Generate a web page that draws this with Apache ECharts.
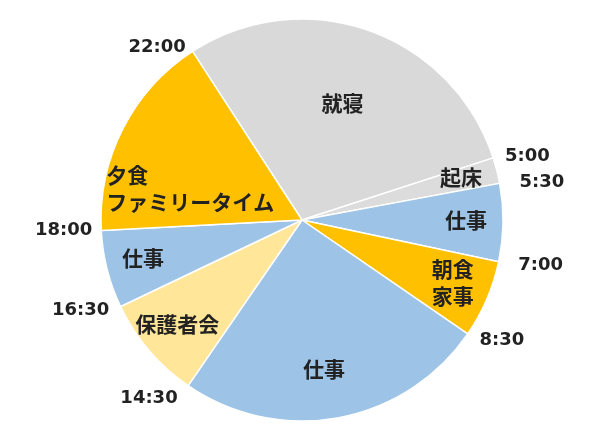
<!DOCTYPE html>
<html>
<head>
<meta charset="utf-8">
<script src="https://cdn.jsdelivr.net/npm/echarts@6/dist/echarts.min.js"></script>
<style>
  html, body { margin: 0; padding: 0; background: #fff; }
  #chart { width: 600px; height: 439px; }
</style>
</head>
<body>
<div id="chart"></div>
<script>
// one day, starting at 22:00 and going clockwise
var activities = ['就寝', '起床', '仕事', '朝食\n家事', '仕事', '保護者会', '仕事', '夕食\nファミリータイム'];
var hours = [7, 0.5, 1.5, 1.5, 6, 2, 1.5, 4];
var startTimes = ['22:00', '5:00', '5:30', '7:00', '8:30', '14:30', '16:30', '18:00'];

var palette = ['#d9d9d9', '#dcdcdc', '#9dc3e6', '#ffc000', '#9dc3e6', '#ffe699', '#9dc3e6', '#ffc000'];
// labels that sit closer to the centre
var nearLabels = [0, 7];
// how far each time label stands off the rim
var timeGap = [5, 5, 8, 16, 12, 15, 8, 5];
var timeGap2 = [2, 5, 10, 2, 0, 0, 2, 2];

var center = [302, 220];
var startAngle = 123;
var fontFamily = 'DejaVu Sans, Noto Sans CJK JP, sans-serif';

function _sliceData() {
    var list = [];
    for (var i = 0; i < hours.length; i++) {
        list.push({
            name: activities[i] + '_' + i,
            value: hours[i],
            itemStyle: { color: palette[i] }
        });
    }
    return list;
}

function _labelData(near) {
    var list = [];
    for (var i = 0; i < hours.length; i++) {
        var show = (nearLabels.indexOf(i) >= 0) === near;
        var item = {
            name: activities[i],
            value: hours[i],
            label: { show: show }
        };
        if (i === 4) {
            item.label.offset = [-8, -10];
        }
        if (i === 7) {
            // left aligned block, like the original
            item.label.offset = [-4, 26];
            item.label.formatter = function (p) {
                return p.name.split('\n').map(function (s) {
                    return '{l|' + s + '}';
                }).join('\n');
            };
            item.label.rich = { l: { align: 'left' } };
        }
        list.push(item);
    }
    return list;
}

function _timeData() {
    var list = [];
    for (var i = 0; i < hours.length; i++) {
        list.push({
            name: startTimes[i],
            value: 0.00001,
            label: { show: true },
            labelLine: { length: timeGap[i], length2: timeGap2[i] }
        });
        list.push({ name: 'gap' + i, value: hours[i], label: { show: false } });
    }
    return list;
}

var labelText = {
    position: 'inside',
    color: '#222',
    fontFamily: fontFamily,
    fontWeight: 'bold',
    fontSize: 21,
    lineHeight: 27,
    formatter: '{b}'
};

var clearItem = { color: 'rgba(0,0,0,0)', borderWidth: 0 };

var chart = echarts.init(document.getElementById('chart'));
chart.setOption({
    animation: false,
    backgroundColor: '#fff',
    series: [
        {
            type: 'pie',
            center: center,
            radius: 201,
            startAngle: startAngle,
            clockwise: true,
            silent: true,
            label: { show: false },
            labelLine: { show: false },
            itemStyle: { borderColor: '#fff', borderWidth: 1.5 },
            data: _sliceData()
        },
        {
            type: 'pie',
            center: center,
            radius: 236,
            startAngle: startAngle,
            silent: true,
            itemStyle: clearItem,
            label: labelText,
            labelLine: { show: false },
            data: _labelData(true)
        },
        {
            type: 'pie',
            center: center,
            radius: 322,
            startAngle: startAngle,
            silent: true,
            itemStyle: clearItem,
            label: labelText,
            labelLine: { show: false },
            data: _labelData(false)
        },
        {
            type: 'pie',
            center: center,
            radius: 201,
            startAngle: startAngle,
            silent: true,
            itemStyle: clearItem,
            label: {
                position: 'outside',
                color: '#222',
                fontFamily: fontFamily,
                fontWeight: 'bold',
                fontSize: 18,
                distanceToLabelLine: 2,
                formatter: '{b}'
            },
            labelLine: { show: false, length: 5, length2: 2 },
            data: _timeData()
        }
    ]
});
</script>
</body>
</html>
